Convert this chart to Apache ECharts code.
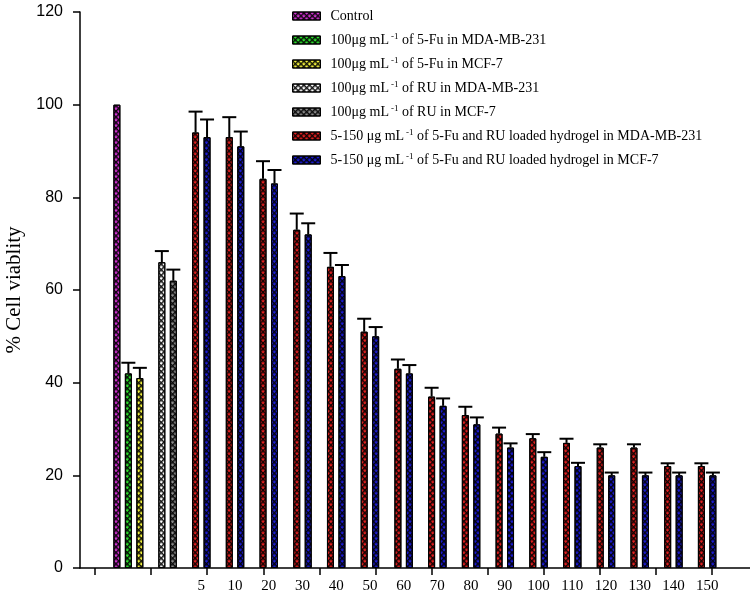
<!DOCTYPE html>
<html>
<head>
<meta charset="utf-8">
<script src="https://cdn.jsdelivr.net/npm/echarts@6/dist/echarts.min.js"></script>
<style>html,body{margin:0;padding:0;background:#fff}#c{width:750px;height:596px}</style>
</head>
<body>
<div id="c"></div>
<script>
// ---- data ----
const categories = ['Control', 'RU', '5', '10', '20', '30', '40', '50', '60', '70', '80', '90', '100', '110', '120', '130', '140', '150'];
const tickSlots = ['t0', 't1', 't2', 't3', 't4', 't5', 't6', 't7', 't8', 't9', 't10'];

const seriesNames = [
  'Control',
  '100μg mL-1 of 5-Fu in MDA-MB-231',
  '100μg mL-1 of 5-Fu in MCF-7',
  '100μg mL-1 of RU in MDA-MB-231',
  '100μg mL-1 of RU in MCF-7',
  '5-150 μg mL-1 of 5-Fu and RU loaded hydrogel in MDA-MB-231',
  '5-150 μg mL-1 of 5-Fu and RU loaded hydrogel in MCF-7'
];

const controlValues = [100];
const controlErrors = [0];
const fuMDAValues = [42];
const fuMDAErrors = [2.3];
const fuMCFValues = [41];
const fuMCFErrors = [2.2];
const ruMDAValues = [66];
const ruMDAErrors = [2.4];
const ruMCFValues = [62];
const ruMCFErrors = [2.4];
const gelMDAValues = [94, 93, 84, 73, 65, 51, 43, 37, 33, 29, 28, 27, 26, 26, 22, 22];
const gelMDAErrors = [4.5, 4.3, 3.8, 3.5, 3.0, 2.8, 2.0, 1.9, 1.8, 1.3, 0.9, 0.9, 0.7, 0.7, 0.6, 0.6];
const gelMCFValues = [93, 91, 83, 72, 63, 50, 42, 35, 31, 26, 24, 22, 20, 20, 20, 20];
const gelMCFErrors = [3.8, 3.2, 2.9, 2.4, 2.4, 2.0, 1.8, 1.6, 1.5, 0.9, 1.0, 0.7, 0.6, 0.6, 0.6, 0.6];

// ---- style ----
const colors = ['#d232d2', '#2ee02e', '#f2f23c', '#ffffff', '#8c8c8c', '#e42020', '#1c1cd6'];
const BAR_W = 7;
const BAR_GAP = '64%';
const CAP_W = 14;
const SERIF = '"Liberation Serif", "Times New Roman", serif';
const SANS = '"Liberation Sans", Arial, sans-serif';

const decal = {
  symbol: 'path://M0,0H4V1.5H1.5V4H0Z',
  symbolSize: 1,
  dashArrayX: [4, 0],
  dashArrayY: [4, 0],
  rotation: Math.PI / 4,
  color: 'rgba(0,0,0,0.92)'
};

// groups: which category axis, slot count, start category
const groups = [
  { axis: 1, count: 3, start: 0, members: [[0, controlValues, controlErrors], [1, fuMDAValues, fuMDAErrors], [2, fuMCFValues, fuMCFErrors]] },
  { axis: 2, count: 2, start: 1, members: [[3, ruMDAValues, ruMDAErrors], [4, ruMCFValues, ruMCFErrors]] },
  { axis: 3, count: 2, start: 2, members: [[5, gelMDAValues, gelMDAErrors], [6, gelMCFValues, gelMCFErrors]] }
];
const axisToY = { 1: 3, 2: 1, 3: 1 };

function padData(values, start) {
  return categories.map((c, i) => (i >= start && i - start < values.length) ? values[i - start] : '-');
}

function makeErrRender(count, slot) {
  return function (params, api) {
    const xi = api.value(0), v = api.value(1), e = api.value(2);
    if (!(e > 0)) return null;
    const base = api.coord([xi, v]);
    const top = api.coord([xi, v + e]);
    const layout = api.barLayout({ count: count, barWidth: BAR_W, barGap: BAR_GAP });
    const x = base[0] + layout[slot].offsetCenter;
    const hw = CAP_W / 2;
    return {
      type: 'group',
      children: [
        { type: 'line', shape: { x1: x, y1: base[1], x2: x, y2: top[1] }, style: { stroke: '#000', lineWidth: 2 } },
        { type: 'line', shape: { x1: x - hw, y1: top[1], x2: x + hw, y2: top[1] }, style: { stroke: '#000', lineWidth: 2 } }
      ]
    };
  };
}

const series = [];
groups.forEach(g => {
  g.members.forEach((m) => {
    const idx = m[0];
    series.push({
      name: seriesNames[idx],
      type: 'bar',
      xAxisIndex: g.axis,
      yAxisIndex: axisToY[g.axis],
      barWidth: BAR_W,
      barGap: BAR_GAP,
      data: padData(m[1], g.start),
      itemStyle: { color: colors[idx], borderColor: '#000', borderWidth: 1, decal: decal },
      emphasis: { disabled: true },
      z: 2
    });
  });
});
groups.forEach(g => {
  g.members.forEach((m, slot) => {
    const idx = m[0];
    series.push({
      name: seriesNames[idx] + ' (error)',
      type: 'custom',
      xAxisIndex: g.axis,
      yAxisIndex: axisToY[g.axis],
      renderItem: makeErrRender(g.count, slot),
      data: m[1].map((v, i) => [g.start + i, v, m[2][i]]),
      z: 5,
      silent: true
    });
  });
});

const hiddenCat = (gi) => ({
  gridIndex: gi, type: 'category', data: categories, position: 'bottom',
  axisLine: { show: false }, axisTick: { show: false }, axisLabel: { show: false }, splitLine: { show: false }
});
const hiddenVal = (gi) => ({ gridIndex: gi, type: 'value', min: 0, max: 120, interval: 20, show: false, splitLine: { show: false } });

const option = {
  backgroundColor: '#fff',
  animation: false,
  grid: [
    { left: 80, right: 0, top: 12, bottom: 28, outerBoundsMode: 'none', containLabel: false },
    { left: 117, right: 26, top: 12, bottom: 28, outerBoundsMode: 'none', containLabel: false },
    { left: 95, right: 38, top: 12, bottom: 28, outerBoundsMode: 'none', containLabel: false },
    { left: 111.5, right: 31.5, top: 12, bottom: 28, outerBoundsMode: 'none', containLabel: false }
  ],
  legend: {
    data: seriesNames,
    orient: 'vertical',
    left: 287,
    top: 4,
    itemWidth: 28,
    itemHeight: 8,
    itemGap: 9.5,
    icon: 'rect',
    selectedMode: false,
    itemStyle: { borderColor: '#000', borderWidth: 1 },
    formatter: name => name.replace('mL-1', 'mL{sup|-1}'),
    textStyle: {
      fontFamily: SERIF, fontSize: 14, color: '#000', padding: [0, 0, 0, 5],
      rich: { sup: { fontFamily: SERIF, fontSize: 9, color: '#000', verticalAlign: 'top', padding: [0, 0, 6, 2] } }
    }
  },
  xAxis: [
    { gridIndex: 0, type: 'value', min: 0, max: 1, axisLine: { show: true, lineStyle: { color: '#000', width: 1.5 } }, axisTick: { show: false }, axisLabel: { show: false }, splitLine: { show: false } },
    hiddenCat(3),
    hiddenCat(1),
    {
      gridIndex: 1, type: 'category', data: categories, position: 'bottom',
      axisLine: { show: false }, axisTick: { show: false }, splitLine: { show: false },
      axisLabel: { show: true, interval: 0, margin: 11, color: '#000', fontFamily: SERIF, fontSize: 15, formatter: (v, i) => (i < 2 ? '' : v) }
    },
    {
      gridIndex: 2, type: 'category', data: tickSlots, boundaryGap: true, position: 'bottom',
      axisLine: { show: false }, axisLabel: { show: false }, splitLine: { show: false },
      axisTick: { show: true, interval: 0, length: 7, lineStyle: { color: '#000', width: 1.5 } }
    }
  ],
  yAxis: [
    {
      gridIndex: 0, type: 'value', min: 0, max: 120, interval: 20,
      name: '% Cell viablity', nameLocation: 'middle', nameGap: 52,
      nameTextStyle: { fontFamily: SERIF, fontSize: 21, color: '#000' },
      axisLine: { show: true, lineStyle: { color: '#000', width: 1.5 } },
      axisTick: { show: true, length: 7, lineStyle: { color: '#000', width: 1.5 } },
      axisLabel: { color: '#000', fontFamily: SANS, fontSize: 16, margin: 17 },
      splitLine: { show: false }
    },
    hiddenVal(1),
    hiddenVal(2),
    hiddenVal(3)
  ],
  series: series
};

const chart = echarts.init(document.getElementById('c'), null, { renderer: 'canvas' });
chart.setOption(option);
</script>
</body>
</html>
